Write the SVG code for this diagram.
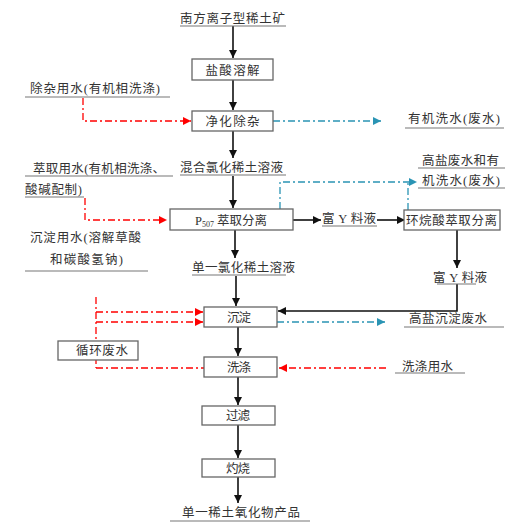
<svg xmlns="http://www.w3.org/2000/svg" width="518" height="527" viewBox="0 0 518 527">
<style>
text{font-family:"Liberation Serif","Noto Sans CJK SC",serif;font-size:12.5px;fill:#333}
.c{text-anchor:middle}
.box{fill:#fff;stroke:#666;stroke-width:1.3}
.ul{stroke:#777;stroke-width:1.2;fill:none}
.k{stroke:#111;stroke-width:1.6;fill:none}
.r{stroke:#f00;stroke-width:1.3;fill:none;stroke-dasharray:7 3 2 3}
.t{stroke:#2a94b4;stroke-width:1.3;fill:none;stroke-dasharray:7 3 2 3}
</style>
<defs>
<marker id="ak" markerWidth="8" markerHeight="8" refX="8" refY="4" orient="auto" markerUnits="userSpaceOnUse"><path d="M0,0 L8,4 L0,8 z" fill="#111"/></marker>
<marker id="ar" markerWidth="8" markerHeight="8" refX="8" refY="4" orient="auto" markerUnits="userSpaceOnUse"><path d="M0,0 L8,4 L0,8 z" fill="#f00"/></marker>
<marker id="at" markerWidth="8" markerHeight="8" refX="8" refY="4" orient="auto" markerUnits="userSpaceOnUse"><path d="M0,0 L8,4 L0,8 z" fill="#2a94b4"/></marker>
</defs>
<rect width="518" height="527" fill="#fff"/>

<g id="connectors">
<line class="k" x1="233" y1="26" x2="233" y2="58" marker-end="url(#ak)"/>
<line class="k" x1="233" y1="80" x2="233" y2="110" marker-end="url(#ak)"/>
<line class="k" x1="233" y1="130" x2="233" y2="158" marker-end="url(#ak)"/>
<line class="k" x1="233" y1="176" x2="233" y2="208" marker-end="url(#ak)"/>
<line class="k" x1="235" y1="230" x2="235" y2="258" marker-end="url(#ak)"/>
<line class="k" x1="236" y1="276" x2="236" y2="306" marker-end="url(#ak)"/>
<line class="k" x1="238" y1="327" x2="238" y2="356" marker-end="url(#ak)"/>
<line class="k" x1="238" y1="377" x2="238" y2="405" marker-end="url(#ak)"/>
<line class="k" x1="238" y1="425" x2="238" y2="458" marker-end="url(#ak)"/>
<line class="k" x1="238" y1="477" x2="238" y2="503" marker-end="url(#ak)"/>
<line class="k" x1="293" y1="220" x2="321" y2="220" marker-end="url(#ak)"/>
<line class="k" x1="377" y1="220" x2="405" y2="220" marker-end="url(#ak)"/>
<line class="k" x1="457" y1="230" x2="457" y2="268" marker-end="url(#ak)"/>
<polyline class="k" points="457,284 457,311 278,311" marker-end="url(#ak)"/>
<polyline class="r" points="83,98 83,121 191,121" marker-end="url(#ar)"/>
<polyline class="r" points="85,198 85,220 167,220" marker-end="url(#ar)"/>
<line class="r" x1="96" y1="297" x2="96" y2="368"/>
<line class="r" x1="96" y1="312" x2="203" y2="312" marker-end="url(#ar)"/>
<line class="r" x1="96" y1="322" x2="203" y2="322" marker-end="url(#ar)"/>
<line class="r" x1="96" y1="368" x2="204" y2="368"/>
<line class="r" x1="386" y1="368" x2="279" y2="368" marker-end="url(#ar)"/>
<line class="t" x1="273" y1="121" x2="381" y2="121" marker-end="url(#at)"/>
<polyline class="t" points="280,209 280,182 417,182" marker-end="url(#at)"/>
<line class="t" x1="408" y1="210" x2="408" y2="182"/>
<line class="t" x1="277" y1="322" x2="385" y2="322" marker-end="url(#at)"/>
</g>

<g id="n-ore"><text x="180" y="23" textLength="105">南方离子型稀土矿</text><line class="ul" x1="180" y1="26" x2="286" y2="26"/></g>
<g id="n-dissolve"><rect class="box" x="192" y="59" width="81" height="21"/><text class="c" x="232.5" y="75" textLength="54">盐酸溶解</text></g>
<g id="n-water1"><text x="30" y="93" textLength="130">除杂用水(有机相洗涤)</text><line class="ul" x1="25" y1="97" x2="170" y2="97"/></g>
<g id="n-purify"><rect class="box" x="192" y="111" width="81" height="20"/><text class="c" x="232.5" y="126" textLength="54">净化除杂</text></g>
<g id="n-organic"><text x="408" y="123" textLength="92">有机洗水(废水)</text><line class="ul" x1="405" y1="128" x2="504" y2="128"/></g>
<g id="n-mixed"><text x="180" y="171.5" textLength="103">混合氯化稀土溶液</text><line class="ul" x1="180" y1="175" x2="286" y2="175"/></g>
<g id="n-water2"><text x="33" y="172.5" textLength="132">萃取用水(有机相洗涤、</text><line class="ul" x1="25" y1="176" x2="173" y2="176"/><text x="25" y="193.5" textLength="57">酸碱配制)</text><line class="ul" x1="25" y1="197" x2="84" y2="197"/></g>
<g id="n-p507"><rect class="box" x="170" y="209" width="123" height="21"/><text x="195" y="224.5">P<tspan font-size="8" dy="2">507</tspan><tspan dy="-2" dx="3">萃取分离</tspan></text></g>
<g id="n-richY1"><text x="322" y="222.5" textLength="54">富 Y 料液</text><line class="ul" x1="322" y1="226" x2="377" y2="226"/></g>
<g id="n-naph"><rect class="box" x="404" y="210" width="96" height="20"/><text x="406" y="224.5" textLength="91">环烷酸萃取分离</text></g>
<g id="n-highsalt"><text x="422" y="164.5" textLength="77">高盐废水和有</text><line class="ul" x1="418" y1="168" x2="505" y2="168"/><text x="422" y="184.5" textLength="78">机洗水(废水)</text><line class="ul" x1="418" y1="188" x2="505" y2="188"/></g>
<g id="n-water3"><text x="30" y="241.5" textLength="111">沉淀用水(溶解草酸</text><text x="50" y="263.5" textLength="73">和碳酸氢钠)</text><line class="ul" x1="25" y1="271" x2="148" y2="271"/></g>
<g id="n-single"><text x="192" y="271.5" textLength="103">单一氯化稀土溶液</text><line class="ul" x1="192" y1="275" x2="286" y2="275"/></g>
<g id="n-richY2"><text x="433" y="281.5" textLength="54">富 Y 料液</text><line class="ul" x1="437" y1="284" x2="476" y2="284"/></g>
<g id="n-precip"><rect class="box" x="204" y="307" width="73" height="20"/><text class="c" x="239" y="321.5" textLength="24">沉淀</text></g>
<g id="n-hsprecip"><text x="409" y="322.5" textLength="78">高盐沉淀废水</text><line class="ul" x1="404" y1="327" x2="504" y2="327"/></g>
<g id="n-recycle"><rect class="box" x="58" y="341" width="80" height="19"/><text x="76" y="355" textLength="52">循环废水</text></g>
<g id="n-wash"><rect class="box" x="204" y="357" width="73" height="20"/><text class="c" x="239" y="371.5" textLength="24">洗涤</text></g>
<g id="n-washwater"><text x="402" y="370.5" textLength="51">洗涤用水</text><line class="ul" x1="395" y1="373" x2="465" y2="373"/></g>
<g id="n-filter"><rect class="box" x="202" y="406" width="73" height="19"/><text class="c" x="238" y="420" textLength="24">过滤</text></g>
<g id="n-burn"><rect class="box" x="202" y="459" width="73" height="18"/><text class="c" x="238" y="472.5" textLength="24">灼烧</text></g>
<g id="n-product"><text x="182" y="516.5" textLength="118">单一稀土氧化物产品</text><line class="ul" x1="170" y1="521" x2="310" y2="521"/></g>
</svg>
